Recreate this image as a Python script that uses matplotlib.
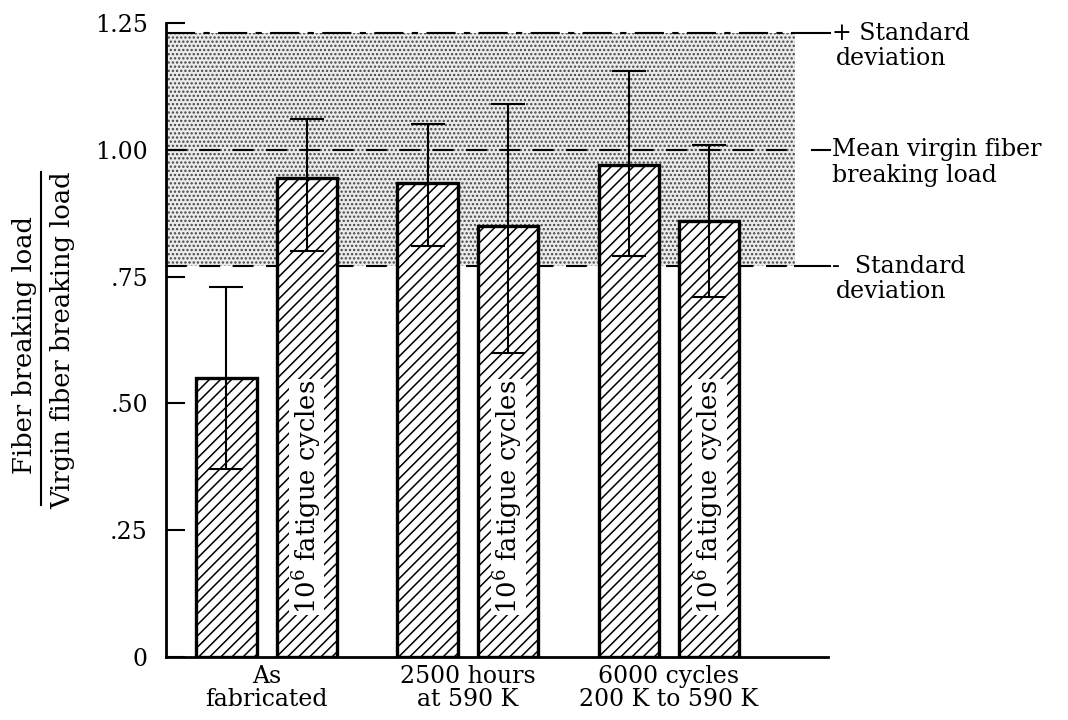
import matplotlib
matplotlib.use('Agg')
import matplotlib.pyplot as plt
import numpy as np

plt.rcParams['font.family'] = ['DejaVu Serif']
plt.rcParams['mathtext.fontset'] = 'dejavuserif'
plt.rcParams['hatch.linewidth'] = 1.1

# data
groups = ['As\nfabricated', '2500 hours\nat 590 K', '6000 cycles\n200 K to 590 K']
ratio = [0.55, 0.945, 0.935, 0.85, 0.97, 0.86]
err_low = [0.37, 0.80, 0.81, 0.60, 0.79, 0.71]
err_high = [0.73, 1.06, 1.05, 1.09, 1.155, 1.01]
fatigued = [False, True, False, True, False, True]
sd_plus = 1.23
sd_mean = 1.00
sd_minus = 0.77
yticks = [0, 0.25, 0.50, 0.75, 1.00, 1.25]
ytick_labels = ['0', '.25', '.50', '.75', '1.00', '1.25']

FS = 17

fig = plt.figure(figsize=(10.68, 7.2), dpi=100)
ax = fig.add_axes([166/1068, 63/720, 662/1068, 634/720])

xpos = []
for g in range(len(groups)):
    xpos += [g - 0.2, g + 0.2]
xpos = np.array(xpos)
ratio = np.array(ratio)

# shaded scatter band
xl, xr = -0.5, 2.79
band_r = 2.627
ax.fill_between([xl, band_r], sd_minus, sd_plus, facecolor='#ebebeb',
                hatch='....', edgecolor='#444444', linewidth=0, zorder=0)
ax.plot([xl, band_r], [sd_plus, sd_plus], color='black', lw=1.5,
        dashes=(14, 4, 3, 4), zorder=1)
ax.plot([xl, band_r], [sd_mean, sd_mean], color='black', lw=1.5,
        dashes=(10, 6), zorder=1)
ax.plot([xl, band_r], [sd_minus, sd_minus], color='black', lw=1.5,
        dashes=(10, 6), zorder=1)
ax.plot([band_r, 2.80], [sd_plus, sd_plus], color='black', lw=1.5, clip_on=False)
ax.plot([2.71, 2.80], [sd_mean, sd_mean], color='black', lw=1.5, clip_on=False)
ax.plot([band_r, 2.80], [sd_minus, sd_minus], color='black', lw=1.5, clip_on=False)

ax.bar(xpos, ratio, width=0.30, facecolor='white', edgecolor='black',
       hatch='///', linewidth=2.4, zorder=2)
ax.errorbar(xpos, ratio, yerr=[ratio - np.array(err_low), np.array(err_high) - ratio],
            fmt='none', ecolor='black', elinewidth=1.5, capsize=12, capthick=1.5, zorder=3)

for x, f in zip(xpos, fatigued):
    if f:
        ax.text(x, 0.315, r'$10^6$ fatigue cycles', rotation=90, ha='center', va='center',
                fontsize=18.5, zorder=4,
                bbox=dict(facecolor='white', edgecolor='none', pad=0.5))

# right side notes
tx = 2.81
dy = 0.05
ax.text(tx, sd_plus, '+ Standard', ha='left', va='center', fontsize=FS, clip_on=False)
ax.text(tx + 0.02, sd_plus - dy, 'deviation', ha='left', va='center', fontsize=FS, clip_on=False)
ax.text(tx, sd_mean, 'Mean virgin fiber', ha='left', va='center', fontsize=FS, clip_on=False)
ax.text(tx, sd_mean - dy, 'breaking load', ha='left', va='center', fontsize=FS, clip_on=False)
ax.text(tx, sd_minus, '-  Standard', ha='left', va='center', fontsize=FS, clip_on=False)
ax.text(tx + 0.02, sd_minus - dy, 'deviation', ha='left', va='center', fontsize=FS, clip_on=False)

ax.set_xlim(xl, xr)
ax.set_ylim(0, 1.25)
ax.set_yticks(yticks)
ax.set_yticklabels(ytick_labels, fontsize=FS)
ax.set_xticks(range(len(groups)))
ax.set_xticklabels(groups, fontsize=FS, linespacing=1.0)
ax.tick_params(axis='y', direction='in', length=14, width=1.5, pad=13)
ax.tick_params(axis='x', length=0, pad=6)
for s in ['top', 'right']:
    ax.spines[s].set_visible(False)
ax.spines['left'].set_linewidth(2)
ax.spines['bottom'].set_linewidth(2)

# fraction style y label
fig.text(25/1068, 1 - 345/720, 'Fiber breaking load', rotation=90,
         ha='center', va='center', fontsize=18.5)
fig.text(63/1068, 1 - 340/720, 'Virgin fiber breaking load', rotation=90,
         ha='center', va='center', fontsize=18.5)
fig.add_artist(plt.Line2D([41/1068, 41/1068], [1 - 505/720, 1 - 172/720],
                          color='black', lw=1.5))

fig.savefig('out.png', dpi=100, facecolor='white')
